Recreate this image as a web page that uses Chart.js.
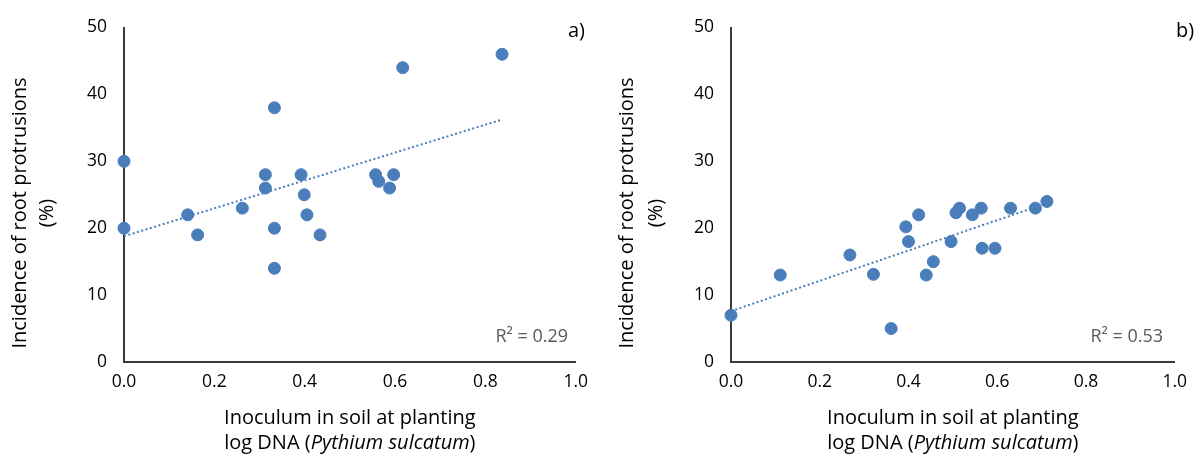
<!DOCTYPE html>
<html>
<head>
<meta charset="utf-8">
<script src="https://cdn.jsdelivr.net/npm/chart.js@4.4.1/dist/chart.umd.min.js"></script>
<style>
  body { margin: 0; background: #fff; }
  .box { position: absolute; top: 0; height: 460px; }
</style>
</head>
<body>
<div class="box" style="left:0;width:598px"><canvas id="chartA"></canvas></div>
<div class="box" style="left:600px;width:597px"><canvas id="chartB"></canvas></div>
<script>
// panel a)
var xA = [0, 0, 0.141, 0.163, 0.262, 0.313, 0.313, 0.333, 0.333, 0.333, 0.392, 0.399, 0.405, 0.434, 0.557, 0.564, 0.588, 0.597, 0.617, 0.837];
var yA = [30, 20, 22, 19, 23, 28, 26, 38, 20, 14, 28, 25, 22, 19, 28, 27, 26, 28, 44, 46];
var trendXA = [0, 0.835];
var trendYA = [18.8, 36.2];

// panel b)
var xB = [0, 0.111, 0.268, 0.321, 0.361, 0.394, 0.400, 0.423, 0.440, 0.456, 0.496, 0.507, 0.515, 0.544, 0.564, 0.566, 0.595, 0.630, 0.686, 0.712];
var yB = [7, 13, 16, 13.1, 5, 20.2, 18, 22, 13, 15, 18, 22.3, 23, 22, 23, 17, 17, 23, 23, 24];
var trendXB = [0, 0.706];
var trendYB = [7.6, 23.6];

var yTitle = ['Incidence of root protrusions', '(%)'];
var xTitle1 = 'Inoculum in soil at planting';

var blue = '#4a7ebb';
var fontName = '"Open Sans", sans-serif';
var titleSize = 20;
var tickSize = 17.5;

function pairs(xs, ys) {
    var out = [];
    for (var i = 0; i < xs.length; i++) out.push({ x: xs[i], y: ys[i] });
    return out;
}

// titles, panel letter and R2 drawn on top
var textPlugin = {
    id: 'extraText',
    afterDraw: function (chart) {
        var o = chart.options.plugins.extraText;
        var ctx = chart.ctx;
        var area = chart.chartArea;
        var f = titleSize + 'px ' + fontName;
        var fi = 'italic ' + titleSize + 'px ' + fontName;
        ctx.save();
        ctx.fillStyle = '#000';
        ctx.textBaseline = 'middle';

        // y title (rotated, two lines)
        ctx.font = f;
        ctx.textAlign = 'center';
        for (var i = 0; i < yTitle.length; i++) {
            ctx.save();
            ctx.translate(o.yTitleX[i], 213);
            ctx.rotate(-Math.PI / 2);
            ctx.fillText(yTitle[i], 0, 0);
            ctx.restore();
        }

        // x title
        var cx = (area.left + area.right) / 2;
        ctx.fillText(xTitle1, cx, 418);
        var p1 = 'log DNA (', p2 = 'Pythium sulcatum', p3 = ')';
        var w1 = ctx.measureText(p1).width;
        var w3 = ctx.measureText(p3).width;
        ctx.font = fi;
        var w2 = ctx.measureText(p2).width;
        var sx = cx - (w1 + w2 + w3) / 2;
        ctx.textAlign = 'left';
        ctx.font = f;
        ctx.fillText(p1, sx, 443);
        ctx.font = fi;
        ctx.fillText(p2, sx + w1, 443);
        ctx.font = f;
        ctx.fillText(p3, sx + w1 + w2, 443);

        // panel letter
        ctx.fillText(o.letter, o.letterX, 31);

        // R squared
        ctx.fillStyle = '#595959';
        ctx.textAlign = 'right';
        ctx.font = '18px ' + fontName;
        ctx.fillText(o.r2, o.r2Right, 337);
        ctx.restore();
    }
};

function makeChart(id, xs, ys, tx, ty, cfg) {
    return new Chart(document.getElementById(id), {
        type: 'scatter',
        data: {
            datasets: [{
                data: pairs(xs, ys),
                backgroundColor: blue,
                borderColor: blue,
                pointRadius: 6,
                pointHoverRadius: 6,
                clip: false
            }, {
                type: 'line',
                data: pairs(tx, ty),
                borderColor: blue,
                borderWidth: 2,
                borderDash: [2, 2.5],
                pointRadius: 0,
                fill: false,
                clip: false
            }]
        },
        options: {
            responsive: true,
            maintainAspectRatio: false,
            animation: false,
            events: [],
            layout: { padding: { top: 27, right: cfg.padRight, left: 0, bottom: 0 } },
            plugins: {
                legend: { display: false },
                tooltip: { enabled: false },
                extraText: cfg
            },
            scales: {
                x: {
                    type: 'linear',
                    min: 0,
                    max: 1,
                    afterFit: function (s) { s.height = 98; },
                    grid: { display: false, drawTicks: false },
                    border: { display: true, color: '#3a3a3a', width: 2 },
                    ticks: {
                        stepSize: 0.2,
                        padding: 10,
                        color: '#000',
                        font: { family: fontName, size: tickSize },
                        callback: function (v) { return v.toFixed(1); }
                    }
                },
                y: {
                    min: 0,
                    max: 50,
                    afterFit: function (s) { s.width = cfg.yWidth; },
                    grid: { display: false, drawTicks: false },
                    border: { display: true, color: '#3a3a3a', width: 2 },
                    ticks: {
                        stepSize: 10,
                        padding: 17,
                        color: '#000',
                        font: { family: fontName, size: tickSize }
                    }
                }
            }
        },
        plugins: [textPlugin]
    });
}

makeChart('chartA', xA, yA, trendXA, trendYA, {
    yWidth: 124, padRight: 20, yTitleX: [20, 47],
    letter: 'a)', letterX: 568, r2: 'R\u00b2 = 0.29', r2Right: 568
});
makeChart('chartB', xB, yB, trendXB, trendYB, {
    yWidth: 131, padRight: 14, yTitleX: [27, 56],
    letter: 'b)', letterX: 576, r2: 'R\u00b2 = 0.53', r2Right: 563
});
</script>
</body>
</html>
